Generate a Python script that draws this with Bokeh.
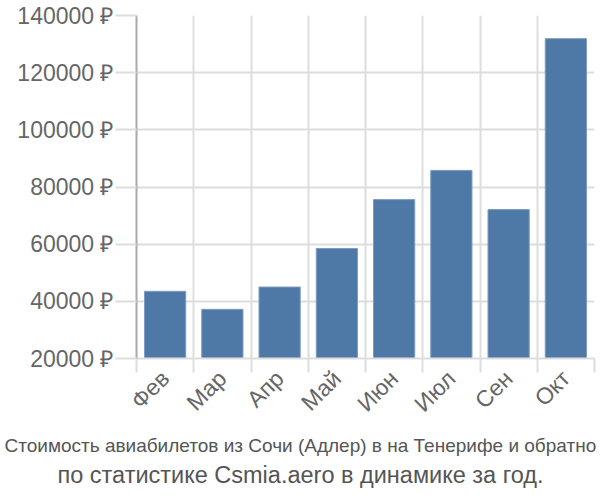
import math
from bokeh.plotting import figure
from bokeh.models import (Range1d, FixedTicker, PrintfTickFormatter, Title, ColumnDataSource)
from bokeh.embed import file_html
from bokeh.resources import INLINE

months = ["Фев", "Мар", "Апр", "Май", "Июн", "Июл", "Сен", "Окт"]
prices = [43500, 37200, 45000, 58500, 75600, 85800, 72100, 131900]
y_ticks = [20000, 40000, 60000, 80000, 100000, 120000, 140000]
title1 = "Стоимость авиабилетов из Сочи (Адлер) в на Тенерифе и обратно"
title2 = "по статистике Csmia.aero в динамике за год."

xs = [i + 0.5 for i in range(len(months))]
src = ColumnDataSource(dict(x=xs, top=prices, bottom=[20000] * len(months)))

p = figure(width=600, height=500, output_backend="svg", toolbar_location=None,
           x_range=Range1d(0, len(months)), y_range=Range1d(20000, 140000),
           min_border_left=136, min_border_right=6, min_border_top=15,
           min_border_bottom=142)
p.outline_line_color = None
p.background_fill_color = "white"

p.vbar(x="x", top="top", bottom="bottom", width=0.72, source=src,
       fill_color="#4e79a7", line_color="#7d9cc4", line_width=1)

# x axis
p.xaxis.ticker = FixedTicker(ticks=xs, minor_ticks=list(range(len(months) + 1)))
p.xaxis.major_label_overrides = {x: m for x, m in zip(xs, months)}
p.xaxis.major_label_orientation = math.pi / 4
p.xaxis.major_tick_line_color = None
p.xaxis.minor_tick_line_color = "#dddddd"
p.xaxis.minor_tick_out = 14
p.xaxis.minor_tick_in = 0
p.xaxis.minor_tick_line_width = 2
p.xaxis.axis_line_color = "#dddddd"
p.xaxis.axis_line_width = 2
p.xaxis.major_label_text_font = "Liberation Sans"
p.xaxis.major_label_text_font_size = "23px"
p.xaxis.major_label_text_color = "#666666"
p.xaxis.major_label_standoff = 2
p.xgrid.grid_line_color = None
p.xgrid.minor_grid_line_color = "#dddddd"
p.xgrid.minor_grid_line_width = 2

# y axis
p.yaxis.ticker = FixedTicker(ticks=y_ticks)
p.yaxis.formatter = PrintfTickFormatter(format="%d ₽")
p.yaxis.axis_line_color = "#aaaaaa"
p.yaxis.axis_line_width = 2
p.yaxis.major_tick_line_color = "#dddddd"
p.yaxis.major_tick_out = 21
p.yaxis.major_tick_in = 0
p.yaxis.major_tick_line_width = 2
p.yaxis.minor_tick_line_color = None
p.yaxis.major_label_text_font = "Liberation Sans"
p.yaxis.major_label_text_font_size = "23px"
p.yaxis.major_label_text_color = "#666666"
p.yaxis.major_label_standoff = 2
p.ygrid.grid_line_color = "#dddddd"
p.ygrid.grid_line_width = 2

p.add_layout(Title(text=title1, align="left", text_font="Liberation Sans",
                   text_font_size="19px", text_font_style="normal",
                   text_color="#555555", standoff=8, offset=-132), "below")
p.add_layout(Title(text=title2, align="left", text_font="Liberation Sans",
                   text_font_size="23.5px", text_font_style="normal",
                   text_color="#555555", standoff=0, offset=-79), "below")

open("out.html", "w").write(file_html(p, INLINE))
